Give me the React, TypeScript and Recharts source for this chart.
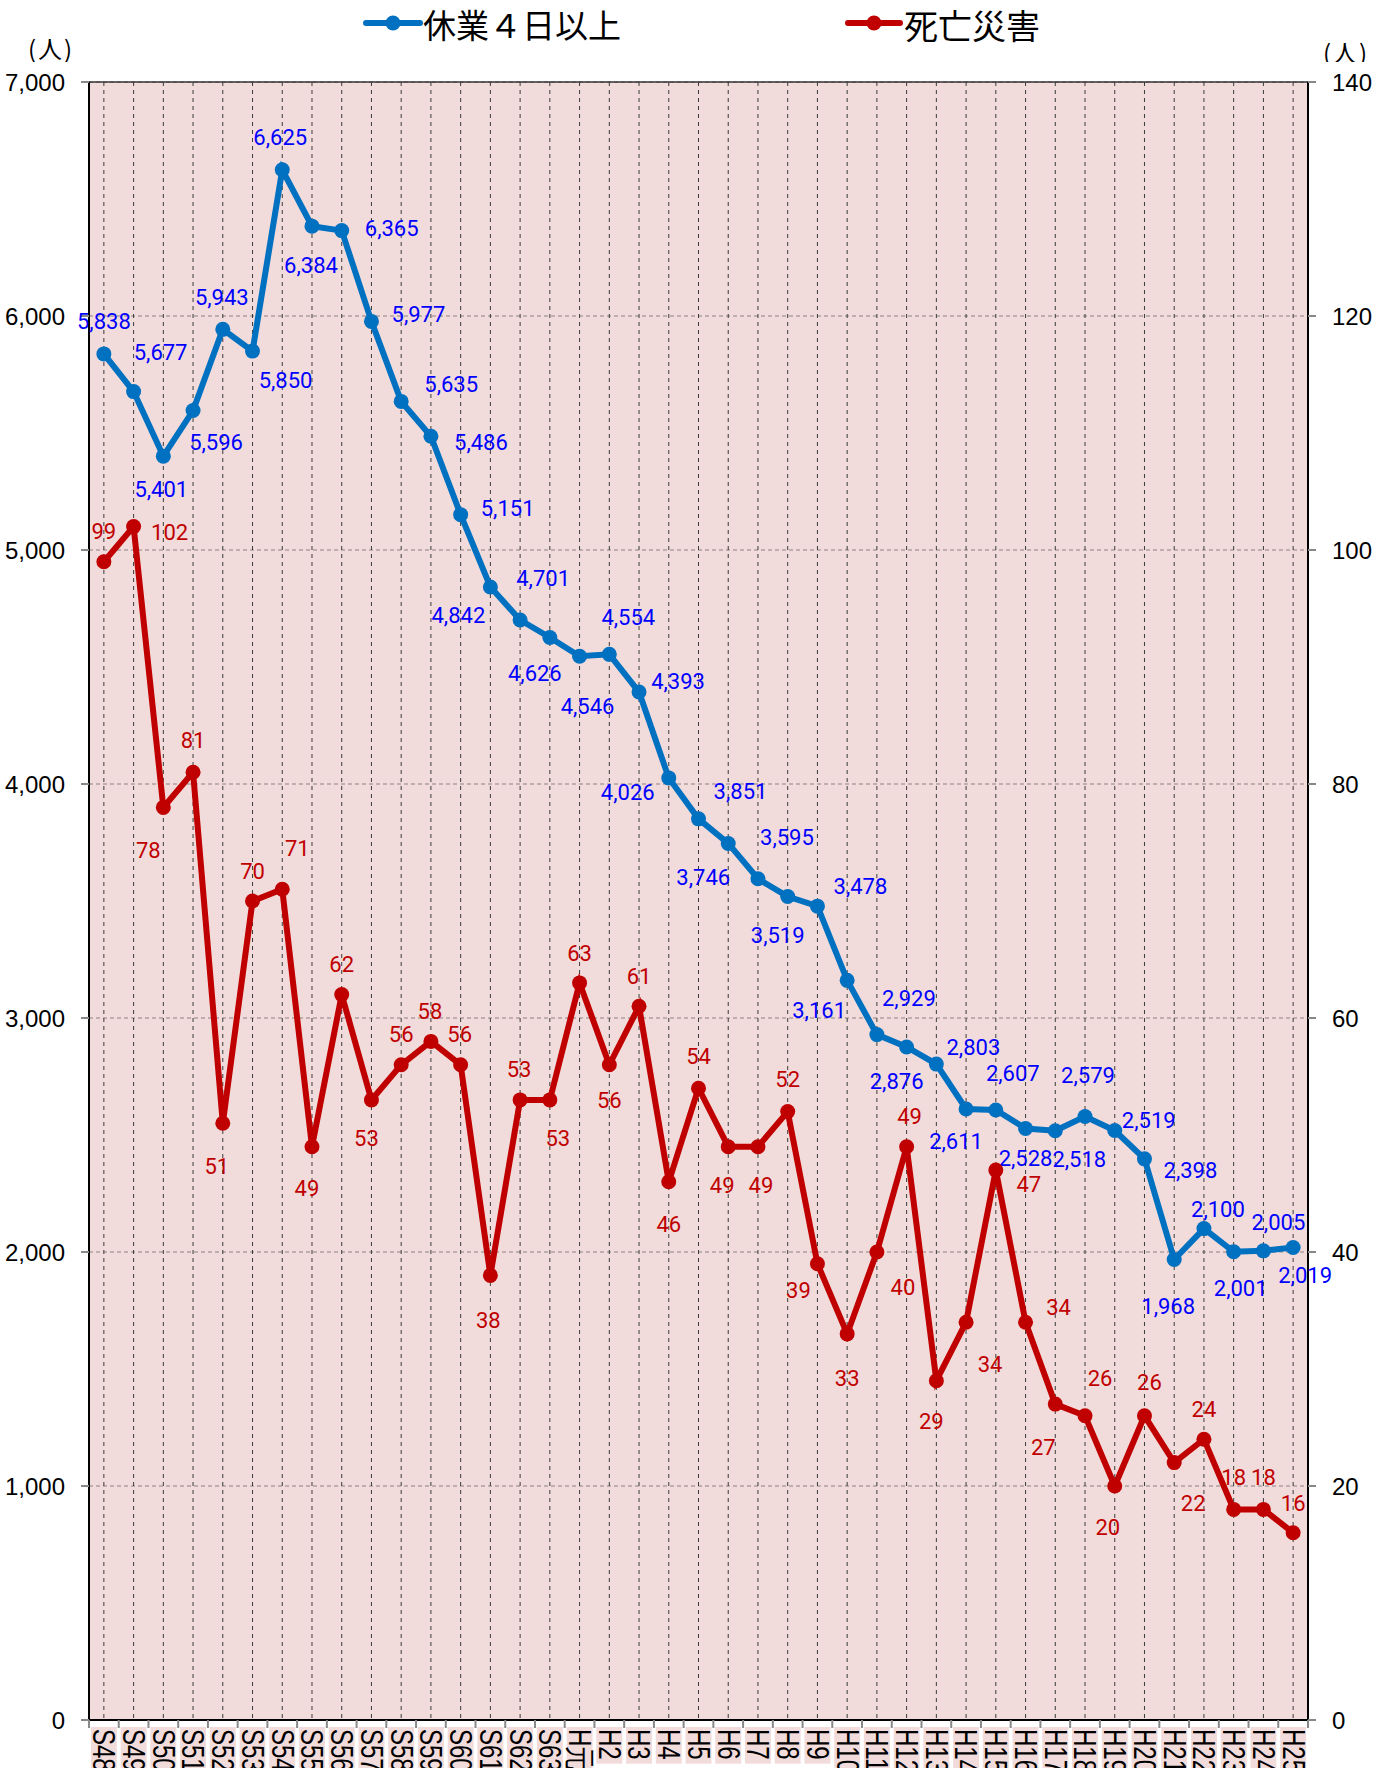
import React from 'react';
import {
  LineChart,
  Line,
  XAxis,
  YAxis,
  CartesianGrid,
  ReferenceLine,
} from 'recharts';

// fiscal years (Showa 48 .. Heisei 25)
const years = [
  'S48', 'S49', 'S50', 'S51', 'S52', 'S53', 'S54', 'S55', 'S56', 'S57', 'S58', 'S59', 'S60', 'S61', 'S62', 'S63',
  'H元', 'H2', 'H3', 'H4', 'H5', 'H6', 'H7', 'H8', 'H9', 'H10', 'H11', 'H12', 'H13', 'H14', 'H15', 'H16', 'H17',
  'H18', 'H19', 'H20', 'H21', 'H22', 'H23', 'H24', 'H25',
];

// 休業4日以上 (left axis)
const injured = [
  5838, 5677, 5401, 5596, 5943, 5850, 6625, 6384, 6365, 5977, 5635, 5486, 5151, 4842, 4701, 4626,
  4546, 4554, 4393, 4026, 3851, 3746, 3595, 3519, 3478, 3161, 2929, 2876, 2803, 2611, 2607, 2528, 2518,
  2579, 2519, 2398, 1968, 2100, 2001, 2005, 2019,
];

// 死亡災害 (right axis)
const deaths = [
  99, 102, 78, 81, 51, 70, 71, 49, 62, 53, 56, 58, 56, 38, 53, 53,
  63, 56, 61, 46, 54, 49, 49, 52, 39, 33, 40, 49, 29, 34, 47, 34, 27,
  26, 20, 26, 22, 24, 18, 18, 16,
];

const leftTicks = [0, 1000, 2000, 3000, 4000, 5000, 6000, 7000];
const rightTicks = [0, 20, 40, 60, 80, 100, 120, 140];

// where each value label sits relative to its point [dx, dy]
const blueLabelOffsets: [number, number][] = [
  [0, -32], [27, -39], [-2, 33], [23, 32], [-1, -32], [33, 29], [-2, -32], [-1, 39], [50, -2], [47, -7],
  [50, -17], [50, 6], [47, -6], [-32, 29], [23, -41], [-15, 36], [8, 50], [19, -37], [39, -11], [-41, 15],
  [42, -27], [-25, 34], [29, -41], [-10, 39], [43, -20], [-28, 30], [32, -36], [-10, 34], [37, -17], [-10, 32],
  [17, -36], [0, 30], [24, 29], [3, -41], [34, -10], [46, 12], [-6, 47], [14, -19], [7, 37], [15, -28], [12, 28],
];
const redLabelOffsets: [number, number][] = [
  [0, -30], [36, 6], [-15, 43], [0, -32], [-6, 43], [0, -30], [15, -41], [-5, 42], [0, -30], [-5, 39],
  [0, -30], [-1, -30], [-1, -30], [-2, 45], [-1, -30], [8, 39], [0, -29], [0, 36], [0, -30], [0, 43],
  [0, -32], [-6, 39], [3, 39], [0, -32], [-19, 27], [0, 45], [26, 35], [3, -30], [-5, 41], [24, 42],
  [33, 14], [33, -15], [-12, 43], [15, -37], [-7, 41], [5, -33], [19, 41], [0, -30], [0, -32], [0, -32], [0, -29],
];

const data = years.map((year, i) => ({ year, injured: injured[i], deaths: deaths[i] }));

const BLUE = '#0070C0';
const RED = '#C00000';
const PINK = '#F2DCDB';
const W = 1390;
const H = 1768;
const HALF_BAND = 1219 / 41 / 2;

const fmt = (v: number) => v.toLocaleString('en-US');

const charWidth = (c: string) => {
  if (c === 'S') return 0.667;
  if (c === 'H') return 0.722;
  if (/[0-9]/.test(c)) return 0.556;
  return 1.0;
};

const YearTick = (props: any) => {
  const { x, y, payload, index } = props;
  const label: string = payload.value;
  const fs = 24;
  const len = label.split('').reduce((s, c) => s + charWidth(c) * fs, 0);
  const top = y + 7;
  return (
    <g>
      <line x1={x - HALF_BAND} x2={x - HALF_BAND} y1={y} y2={y + 8} stroke="#888" strokeWidth={2} />
      {index === years.length - 1 && (
        <line x1={x + HALF_BAND} x2={x + HALF_BAND} y1={y} y2={y + 8} stroke="#888" strokeWidth={2} />
      )}
      <rect x={x - 13} y={top} width={26} height={len + 6} fill={PINK} />
      <text
        transform={`translate(${x}, ${top + 2}) rotate(90) scale(1, 1.28)`}
        textAnchor="start"
        dominantBaseline="central"
        fontFamily="'Liberation Sans', Arial, sans-serif"
        fontSize={fs}
        fill="#000"
      >
        {label}
      </text>
    </g>
  );
};

const makeDot = (color: string, labelColor: string, offsets: [number, number][]) => (props: any) => {
  const { cx, cy, index, value } = props;
  if (cx == null || cy == null) return <g key={`d-${index}`} />;
  const [dx, dy] = offsets[index] || [0, -30];
  return (
    <g key={`d-${color}-${index}`}>
      <circle cx={cx} cy={cy} r={7.5} fill={color} />
      <text
        x={cx + dx}
        y={cy + dy}
        textAnchor="middle"
        dominantBaseline="central"
        fontFamily="Roboto, 'Noto Sans', sans-serif"
        fontSize={22}
        fill={labelColor}
      >
        {fmt(value)}
      </text>
    </g>
  );
};

const legendFont = "'Noto Sans CJK JP', sans-serif";

const Legend = () => (
  <svg width={W} height={62} style={{ position: 'absolute', left: 0, top: 0 }}>
    <line x1={366} x2={420} y1={23} y2={23} stroke={BLUE} strokeWidth={6} strokeLinecap="round" />
    <circle cx={393} cy={23} r={7.5} fill={BLUE} />
    <text x={423} y={24} dominantBaseline="central" fontSize={33} fontFamily={legendFont} fill="#000">
      休業４日以上
    </text>
    <line x1={848} x2={900} y1={23} y2={23} stroke={RED} strokeWidth={6} strokeLinecap="round" />
    <circle cx={874} cy={23} r={7.5} fill={RED} />
    <text x={904} y={24} dominantBaseline="central" fontSize={34} fontFamily={legendFont} fill="#000">
      死亡災害
    </text>
    <text x={51} y={47} textAnchor="middle" dominantBaseline="central" fontSize={24} letterSpacing={2} fontFamily={legendFont} fill="#000">
      (人)
    </text>
    <text x={1346} y={51} textAnchor="middle" dominantBaseline="central" fontSize={24} letterSpacing={2} fontFamily={legendFont} fill="#000">
      (人)
    </text>
  </svg>
);

const tickStyle = { fontFamily: "'Liberation Sans', Arial, sans-serif", fontSize: 24, fill: '#000' };

export default function App() {
  return (
    <div style={{ position: 'absolute', left: 0, top: 0, width: W, height: H, background: '#fff' }}>
      <LineChart width={W} height={H} data={data} margin={{ top: 82, right: 0, bottom: 0, left: 0 }}>
        <CartesianGrid yAxisId="left" vertical={false} fill={PINK} stroke="#8a8080" strokeDasharray="4 3" />
        <CartesianGrid yAxisId="left" horizontal={false} stroke="#3a3a3a" strokeDasharray="4 4" />
        <XAxis
          dataKey="year"
          interval={0}
          height={48}
          padding={{ left: HALF_BAND, right: HALF_BAND }}
          tickLine={false}
          tickSize={0}
          tickMargin={0}
          axisLine={{ stroke: '#000', strokeWidth: 2 }}
          tick={<YearTick />}
        />
        <YAxis
          yAxisId="left"
          width={89}
          domain={[0, 7000]}
          ticks={leftTicks}
          tickFormatter={fmt}
          tickSize={8}
          tickMargin={16}
          tickLine={{ stroke: '#888', strokeWidth: 2 }}
          axisLine={{ stroke: '#000', strokeWidth: 2 }}
          tick={tickStyle}
        />
        <YAxis
          yAxisId="right"
          orientation="right"
          width={82}
          domain={[0, 140]}
          ticks={rightTicks}
          tickSize={8}
          tickMargin={16}
          tickLine={{ stroke: '#888', strokeWidth: 2 }}
          axisLine={{ stroke: '#000', strokeWidth: 2 }}
          tick={tickStyle}
        />
        <ReferenceLine yAxisId="left" y={7000} stroke="#333" strokeWidth={1.5} />
        <Line
          yAxisId="left"
          dataKey="injured"
          stroke={BLUE}
          strokeWidth={6}
          dot={makeDot(BLUE, '#0000FF', blueLabelOffsets)}
          activeDot={false}
          isAnimationActive={false}
        />
        <Line
          yAxisId="right"
          dataKey="deaths"
          stroke={RED}
          strokeWidth={6}
          dot={makeDot(RED, '#C00000', redLabelOffsets)}
          activeDot={false}
          isAnimationActive={false}
        />
      </LineChart>
      <Legend />
    </div>
  );
}
